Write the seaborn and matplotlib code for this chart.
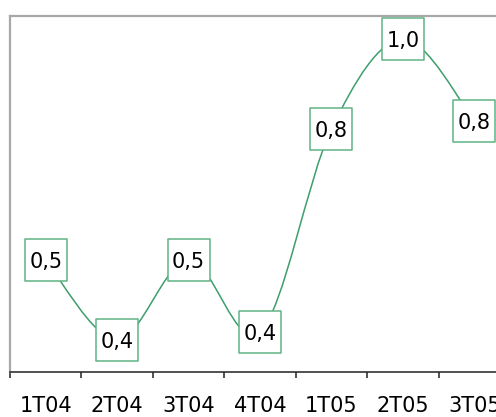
import numpy as np
import pandas as pd
import matplotlib
matplotlib.use("Agg")
import matplotlib.pyplot as plt
from matplotlib.path import Path
from matplotlib.patches import PathPatch
import seaborn as sns

quarters = ["1T04", "2T04", "3T04", "4T04", "1T05", "2T05", "3T05"]
values = [0.52, 0.363, 0.521, 0.378, 0.778, 0.955, 0.794]

line_green = "#3d9e6c"
box_green = "#5fb385"

sns.set_theme(style="white")
plt.rcParams["font.family"] = ["DejaVu Sans"]

df = pd.DataFrame({"quarter": quarters, "value": values})
df["pos"] = np.arange(len(df))
df["label"] = [f"{v:.1f}".replace(".", ",") for v in values]

fig = plt.figure(figsize=(4.96, 4.17), dpi=100)
ax = fig.add_axes([10 / 496, 45 / 417, 500 / 496, 356 / 417])

# smoothed line (Catmull-Rom style Bezier, like a spreadsheet "smoothed line")
pts = df[["pos", "value"]].to_numpy(dtype=float)
ext = np.vstack([pts[0], pts, pts[-1]])
verts = [tuple(pts[0])]
codes = [Path.MOVETO]
for i in range(len(pts) - 1):
    p0, p1, p2, p3 = ext[i], ext[i + 1], ext[i + 2], ext[i + 3]
    c1 = p1 + (p2 - p0) / 6
    c2 = p2 - (p3 - p1) / 6
    verts += [tuple(c1), tuple(c2), tuple(p2)]
    codes += [Path.CURVE4] * 3
ax.add_patch(PathPatch(Path(verts, codes), fc="none", ec=line_green, lw=1.1, zorder=2))

# label boxes as square markers
sns.scatterplot(data=df, x="pos", y="value", ax=ax, marker="s", s=900,
                color="white", edgecolor=box_green, linewidth=1.1, legend=False, zorder=4)

for _, row in df.iterrows():
    ax.text(row["pos"], row["value"], row["label"], ha="center", va="center_baseline",
            fontsize=15, color="black", zorder=5)

ax.set_xlim(-0.5, 6.5)
ax.set_ylim(0.3, 1.0)
ax.set_xlabel("")
ax.set_ylabel("")
ax.set_yticks([])

ax.set_xticks(np.arange(-0.5, 7, 1))
ax.set_xticklabels([])
ax.set_xticks(df["pos"], minor=True)
ax.set_xticklabels(quarters, minor=True, fontsize=15)
ax.tick_params(axis="x", which="major", direction="out", length=4.5, width=1.1,
               color="#222222", bottom=True)
ax.tick_params(axis="x", which="minor", length=0, pad=17, labelcolor="black")

for side in ["top", "left"]:
    ax.spines[side].set_color("#a8a8a8")
    ax.spines[side].set_linewidth(1.6)
ax.spines["bottom"].set_color("#222222")
ax.spines["bottom"].set_linewidth(1.1)
ax.spines["right"].set_visible(False)

fig.savefig("out.png", dpi=100)
